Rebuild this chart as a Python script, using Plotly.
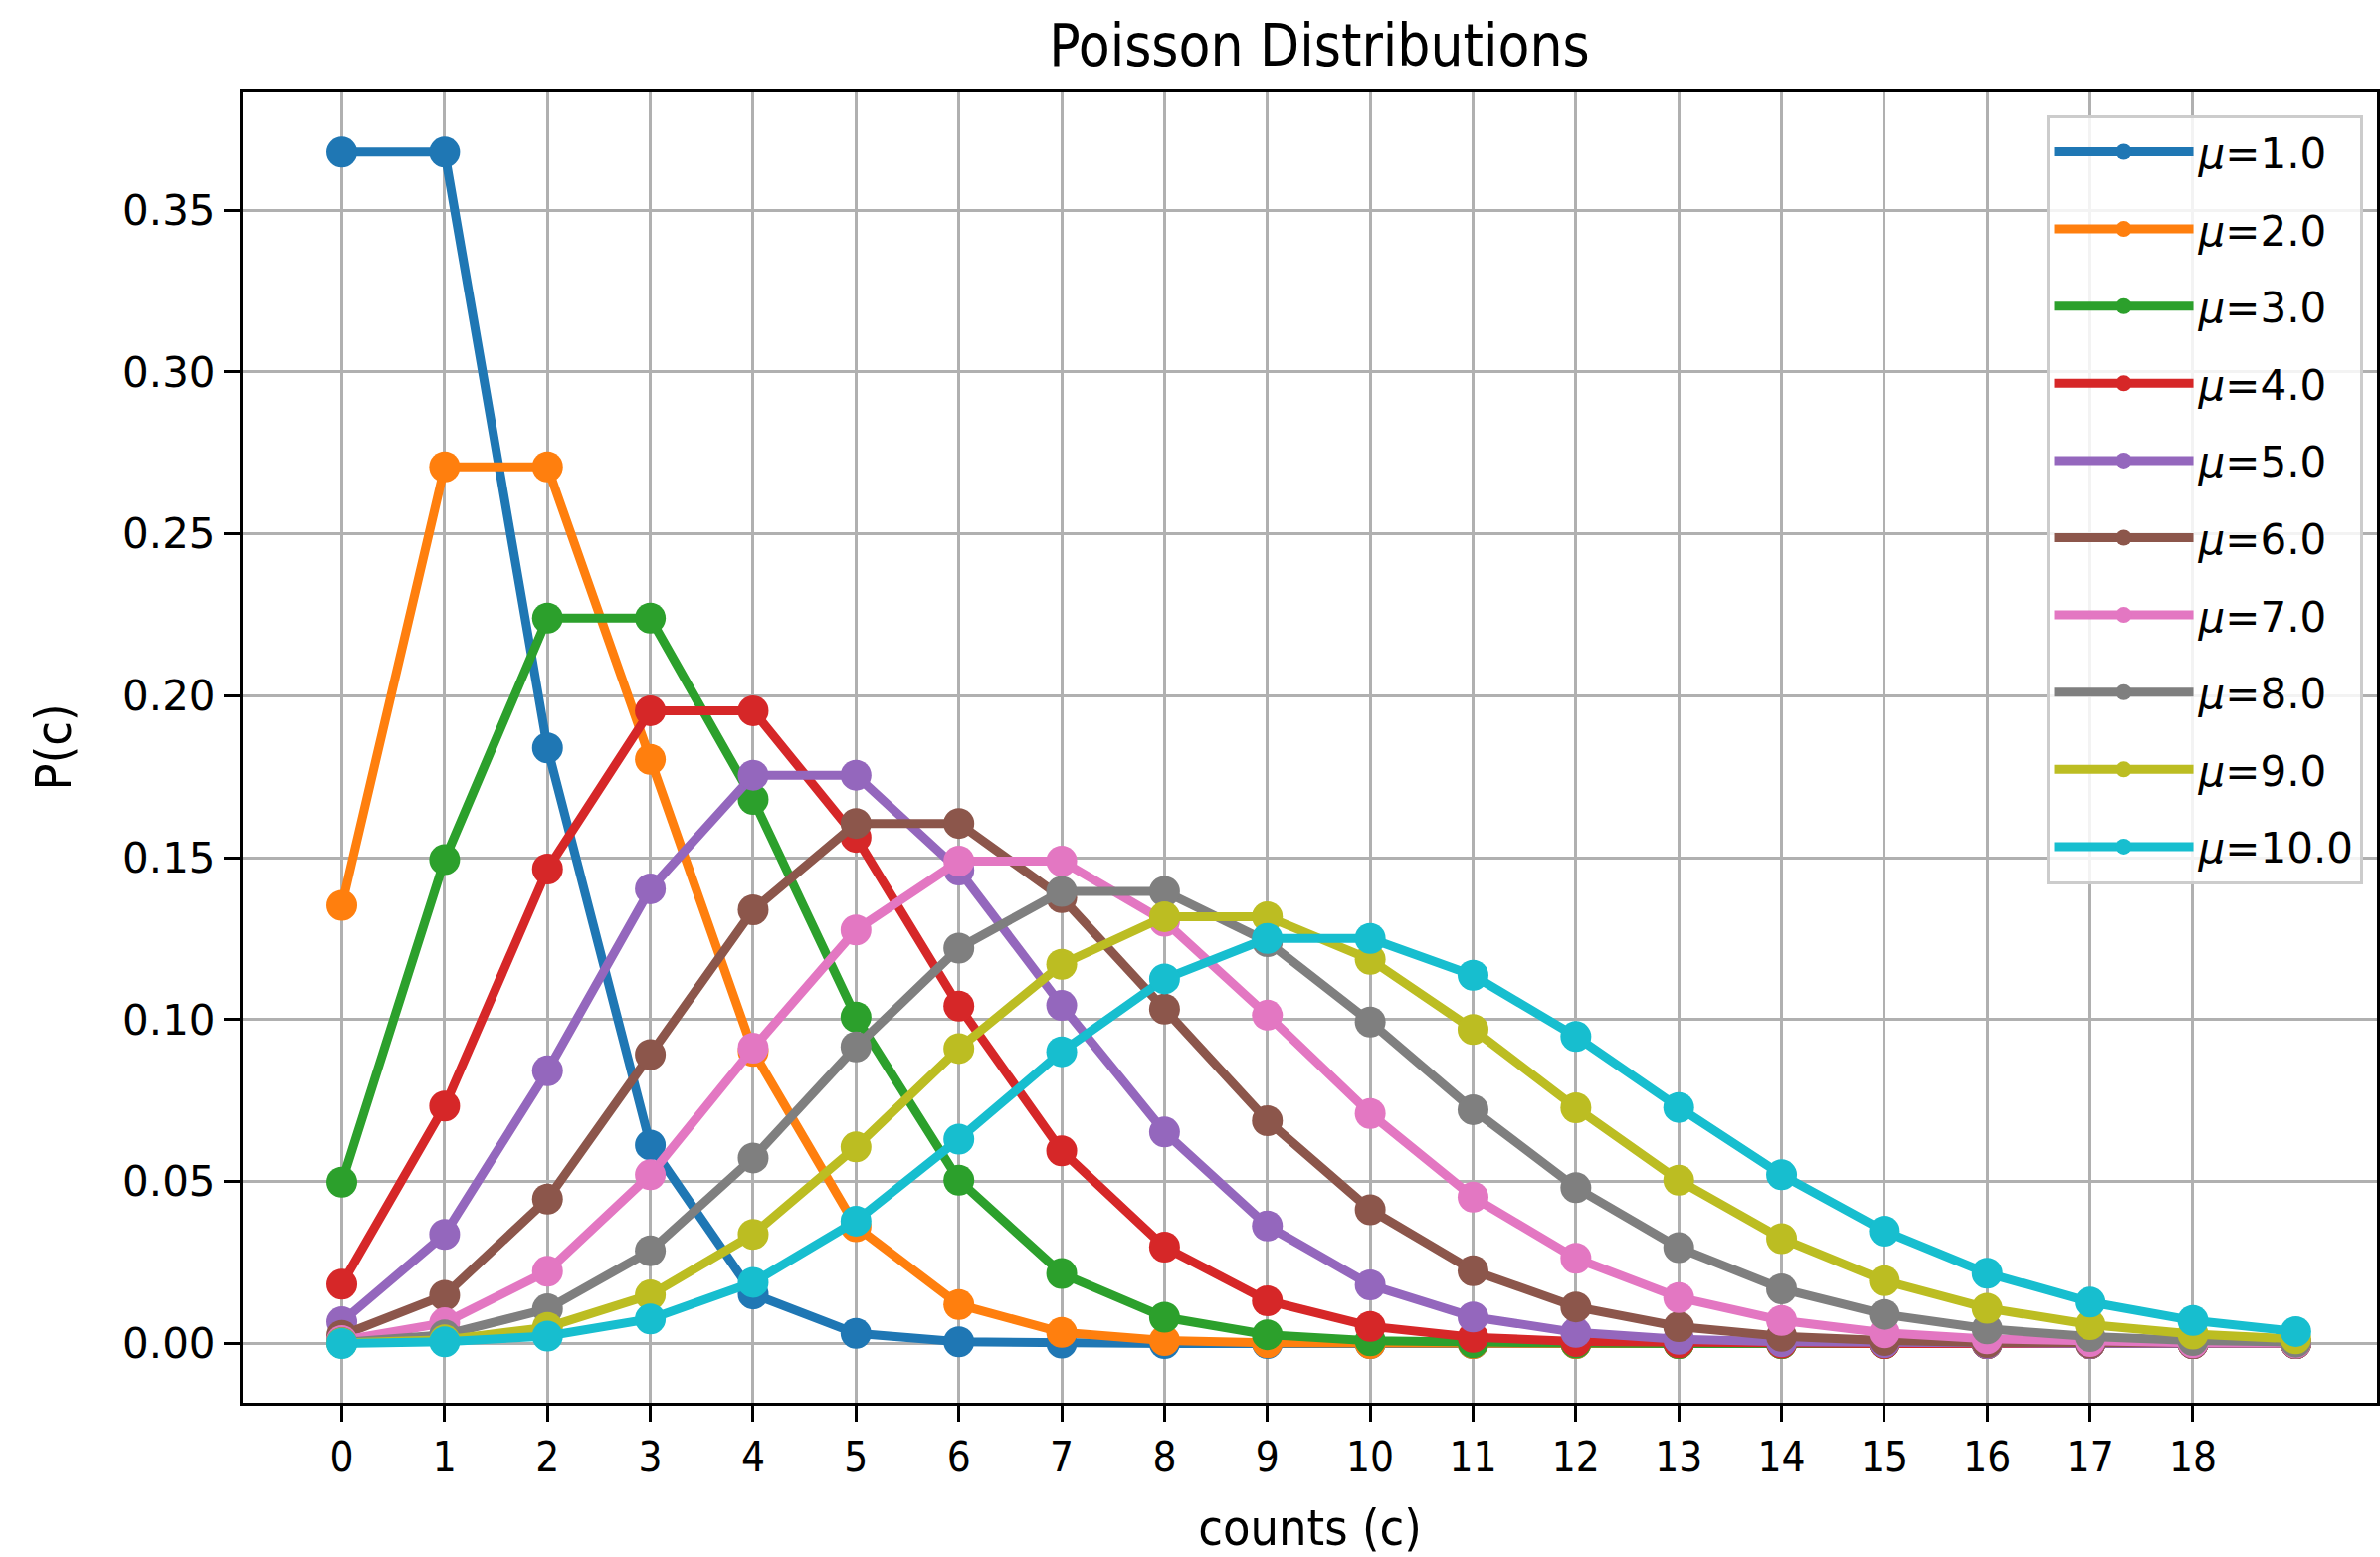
import plotly.graph_objects as go

counts = list(range(20))
mus = [1.0, 2.0, 3.0, 4.0, 5.0, 6.0, 7.0, 8.0, 9.0, 10.0]

p_mu1 = [0.3679, 0.3679, 0.1839, 0.0613, 0.0153, 0.0031, 0.0005, 0.0001, 0.0000, 0.0000,
         0.0000, 0.0000, 0.0000, 0.0000, 0.0000, 0.0000, 0.0000, 0.0000, 0.0000, 0.0000]
p_mu2 = [0.1353, 0.2707, 0.2707, 0.1804, 0.0902, 0.0361, 0.0120, 0.0034, 0.0009, 0.0002,
         0.0000, 0.0000, 0.0000, 0.0000, 0.0000, 0.0000, 0.0000, 0.0000, 0.0000, 0.0000]
p_mu3 = [0.0498, 0.1494, 0.2240, 0.2240, 0.1680, 0.1008, 0.0504, 0.0216, 0.0081, 0.0027,
         0.0008, 0.0002, 0.0001, 0.0000, 0.0000, 0.0000, 0.0000, 0.0000, 0.0000, 0.0000]
p_mu4 = [0.0183, 0.0733, 0.1465, 0.1954, 0.1954, 0.1563, 0.1042, 0.0595, 0.0298, 0.0132,
         0.0053, 0.0019, 0.0006, 0.0002, 0.0001, 0.0000, 0.0000, 0.0000, 0.0000, 0.0000]
p_mu5 = [0.0067, 0.0337, 0.0842, 0.1404, 0.1755, 0.1755, 0.1462, 0.1044, 0.0653, 0.0363,
         0.0181, 0.0082, 0.0034, 0.0013, 0.0005, 0.0002, 0.0000, 0.0000, 0.0000, 0.0000]
p_mu6 = [0.0025, 0.0149, 0.0446, 0.0892, 0.1339, 0.1606, 0.1606, 0.1377, 0.1033, 0.0688,
         0.0413, 0.0225, 0.0113, 0.0052, 0.0022, 0.0009, 0.0003, 0.0001, 0.0000, 0.0000]
p_mu7 = [0.0009, 0.0064, 0.0223, 0.0521, 0.0912, 0.1277, 0.1490, 0.1490, 0.1304, 0.1014,
         0.0710, 0.0452, 0.0263, 0.0142, 0.0071, 0.0033, 0.0014, 0.0006, 0.0002, 0.0001]
p_mu8 = [0.0003, 0.0027, 0.0107, 0.0286, 0.0573, 0.0916, 0.1221, 0.1396, 0.1396, 0.1241,
         0.0993, 0.0722, 0.0481, 0.0296, 0.0169, 0.0090, 0.0045, 0.0021, 0.0009, 0.0004]
p_mu9 = [0.0001, 0.0011, 0.0050, 0.0150, 0.0337, 0.0607, 0.0911, 0.1171, 0.1318, 0.1318,
         0.1186, 0.0970, 0.0728, 0.0504, 0.0324, 0.0194, 0.0109, 0.0058, 0.0029, 0.0014]
p_mu10 = [0.0000, 0.0005, 0.0023, 0.0076, 0.0189, 0.0378, 0.0631, 0.0901, 0.1126, 0.1251,
          0.1251, 0.1137, 0.0948, 0.0729, 0.0521, 0.0347, 0.0217, 0.0128, 0.0071, 0.0037]

series = [p_mu1, p_mu2, p_mu3, p_mu4, p_mu5, p_mu6, p_mu7, p_mu8, p_mu9, p_mu10]
colors = ["#1f77b4", "#ff7f0e", "#2ca02c", "#d62728", "#9467bd",
          "#8c564b", "#e377c2", "#7f7f7f", "#bcbd22", "#17becf"]

x_ticks = list(range(19))
y_ticks = [0.0, 0.05, 0.10, 0.15, 0.20, 0.25, 0.30, 0.35]

narrow = "Liberation Sans Narrow, DejaVu Sans Condensed, sans-serif"
wide = "DejaVu Sans, sans-serif"

fig = go.Figure()
for i, (mu, vals, col) in enumerate(zip(mus, series, colors)):
    fig.add_trace(go.Scatter(
        x=counts, y=vals, mode="lines+markers",
        name=f"<i>μ</i>={mu:.1f}",
        legendgroup=f"g{i}",
        line=dict(color=col, width=9),
        marker=dict(color=col, size=31),
    ))

fig.update_layout(
    width=2392, height=1565,
    margin=dict(l=244, r=0, t=92, b=155),
    paper_bgcolor="white", plot_bgcolor="white",
    title=dict(text="Poisson Distributions", x=(1326 / 2392), xanchor="center",
               y=1 - 46 / 1565, yanchor="middle",
               font=dict(family=narrow, size=58, color="black")),
    showlegend=True,
    legend=dict(x=0.845, y=0.982, xanchor="left", yanchor="top",
                bgcolor="rgba(255,255,255,0.85)", bordercolor="#cccccc", borderwidth=3,
                font=dict(family=wide, size=42, color="black"),
                itemwidth=140, tracegroupgap=20),
    font=dict(family=narrow, color="black"),
)

fig.update_xaxes(
    range=[-0.963, 19.79], tickvals=x_ticks, ticktext=[str(v) for v in x_ticks],
    showgrid=True, gridcolor="#b0b0b0", gridwidth=3,
    showline=True, linecolor="black", linewidth=3, mirror=True,
    ticks="outside", ticklen=16, tickwidth=3, tickcolor="black",
    tickfont=dict(family=narrow, size=42, color="black"),
    title=dict(text="counts (c)", font=dict(family=narrow, size=50, color="black"), standoff=36),
    zeroline=False,
)
fig.update_yaxes(
    range=[-0.0183, 0.3866], tickvals=y_ticks, tickformat=".2f",
    showgrid=True, gridcolor="#b0b0b0", gridwidth=3,
    showline=True, linecolor="black", linewidth=3, mirror=True,
    ticks="outside", ticklen=16, tickwidth=3, tickcolor="black",
    tickfont=dict(family=wide, size=42, color="black"),
    title=dict(text="P(c)", font=dict(family=narrow, size=50, color="black"), standoff=36),
    zeroline=False,
)

fig.write_html("out.html")
